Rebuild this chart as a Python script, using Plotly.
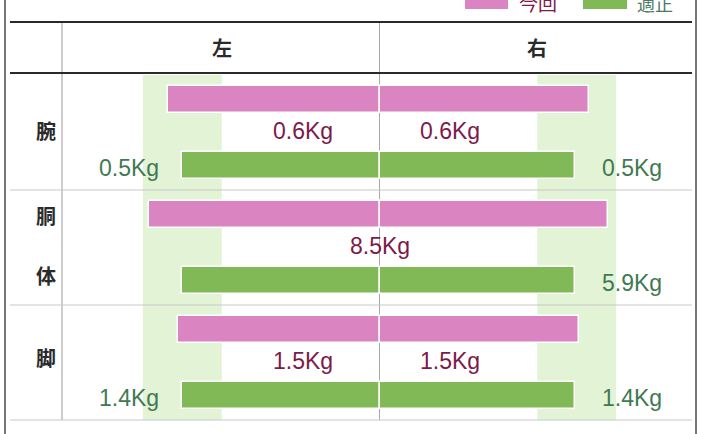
import plotly.graph_objects as go

# ---------------- data ----------------
parts = ["腕", "胴体", "脚"]
sides = ["左", "右"]
legend_names = ["今回", "適正"]

# measured values (Kg), left / right ; trunk is a single value
current_kg_left = [0.6, 8.5, 1.5]
current_kg_right = [0.6, 8.5, 1.5]
standard_kg_left = [0.5, 5.9, 1.4]
standard_kg_right = [0.5, 5.9, 1.4]

# bar lengths as % of standard
current_pct_left = [107, 117, 102]
current_pct_right = [106, 116, 101]
standard_pct_left = [100, 100, 100]
standard_pct_right = [99, 99, 99]

normal_range = [80, 120]  # % of standard (light green band)

# ---------------- style ----------------
PINK = "#DA84C1"
GREEN = "#80B956"
BAND = "#E2F3D6"
PINK_TXT = "#7C1A4A"
GREEN_TXT = "#3F7A52"
DARK = "#2A2A2A"

W, H = 701, 434
L, R, T, B = 62, 697, 22, 420
XR = 161.0
Y_TOP = -(75 - T) / 115.0


def px(xp):
    return (xp - L) / (R - L)


def py(yp):
    return (B - yp) / (B - T)


PINK_OFF = 0.21
GREEN_OFF = 0.785
BAR_W = 0.235

fig = go.Figure()

rows = list(range(len(parts)))
bar_line = dict(color="white", width=1.5)
fig.add_trace(go.Bar(
    y=[r + PINK_OFF for r in rows], x=[-v for v in current_pct_left],
    orientation="h", width=BAR_W, marker=dict(color=PINK, line=bar_line),
    name=legend_names[0], showlegend=False, hoverinfo="skip"))
fig.add_trace(go.Bar(
    y=[r + PINK_OFF for r in rows], x=current_pct_right,
    orientation="h", width=BAR_W, marker=dict(color=PINK, line=bar_line),
    name=legend_names[0], showlegend=False, hoverinfo="skip"))
fig.add_trace(go.Bar(
    y=[r + GREEN_OFF for r in rows], x=[-v for v in standard_pct_left],
    orientation="h", width=BAR_W, marker=dict(color=GREEN, line=bar_line),
    name=legend_names[1], showlegend=False, hoverinfo="skip"))
fig.add_trace(go.Bar(
    y=[r + GREEN_OFF for r in rows], x=standard_pct_right,
    orientation="h", width=BAR_W, marker=dict(color=GREEN, line=bar_line),
    name=legend_names[1], showlegend=False, hoverinfo="skip"))

shapes = []
for sgn in (-1, 1):
    shapes.append(dict(type="rect", xref="x", yref="y", layer="below",
                       x0=sgn * normal_range[0], x1=sgn * normal_range[1], y0=0, y1=len(parts),
                       fillcolor=BAND, line=dict(width=0)))
shapes.append(dict(type="line", xref="x", yref="y", layer="below", x0=0, x1=0, y0=Y_TOP, y1=len(parts),
                   line=dict(color="#A8A8A8", width=1)))
shapes.append(dict(type="line", xref="paper", yref="paper", x0=px(62), x1=px(62), y0=py(22), y1=py(420),
                   line=dict(color="#9A9A9A", width=1)))
for yy in (190, 305, 420):
    shapes.append(dict(type="line", xref="paper", yref="paper", x0=px(10), x1=px(692), y0=py(yy), y1=py(yy),
                       line=dict(color="#C8C8C8", width=1)))
for yy in (22, 73):
    shapes.append(dict(type="line", xref="paper", yref="paper", x0=px(10), x1=px(692), y0=py(yy), y1=py(yy),
                       line=dict(color=DARK, width=2)))
for xx in (5, 696):
    shapes.append(dict(type="line", xref="paper", yref="paper", x0=px(xx), x1=px(xx), y0=py(-2), y1=py(436),
                       line=dict(color="#4A4A4A", width=1.5)))
shapes.append(dict(type="rect", xref="paper", yref="paper", x0=px(465), x1=px(508), y0=py(-6), y1=py(9),
                   fillcolor=PINK, line=dict(width=0)))
shapes.append(dict(type="rect", xref="paper", yref="paper", x0=px(583), x1=px(627), y0=py(-6), y1=py(9),
                   fillcolor=GREEN, line=dict(width=0)))

ann = []
FONT = "Liberation Sans, Arial, sans-serif"
CJK = "Noto Sans CJK JP, sans-serif"
ann.append(dict(xref="paper", yref="paper", x=px(517), y=py(2), xanchor="left", yanchor="middle",
                text=legend_names[0], showarrow=False, font=dict(family=CJK, size=19, color=PINK_TXT)))
ann.append(dict(xref="paper", yref="paper", x=px(635), y=py(3), xanchor="left", yanchor="middle",
                text=legend_names[1], showarrow=False, font=dict(family=CJK, size=18, color="#4E7A62")))
hdr_font = dict(family=CJK, size=20, color=DARK, weight="bold")
ann.append(dict(xref="x", yref="paper", x=-80, y=py(48), yanchor="middle", text=sides[0], showarrow=False,
                font=hdr_font))
ann.append(dict(xref="x", yref="paper", x=80, y=py(48), yanchor="middle", text=sides[1], showarrow=False,
                font=hdr_font))
row_font = dict(family=CJK, size=20, color=DARK, weight="bold")
ann.append(dict(xref="paper", yref="y", x=px(34), y=0.48, yanchor="middle", text=parts[0], showarrow=False,
                font=row_font))
ann.append(dict(xref="paper", yref="y", x=px(34), y=1.22, yanchor="middle", text=parts[1][0], showarrow=False,
                font=row_font))
ann.append(dict(xref="paper", yref="y", x=px(34), y=1.74, yanchor="middle", text=parts[1][1], showarrow=False,
                font=row_font))
ann.append(dict(xref="paper", yref="y", x=px(34), y=2.46, yanchor="middle", text=parts[2], showarrow=False,
                font=row_font))

VAL_FONT = 23
pink_font = dict(family=FONT, size=VAL_FONT, color=PINK_TXT)
green_font = dict(family=FONT, size=VAL_FONT, color=GREEN_TXT)
for i in rows:
    if i == 1:
        ann.append(dict(xref="x", yref="y", x=0, y=i + 0.49, yanchor="middle", text=f"{current_kg_left[i]}Kg",
                        showarrow=False, font=pink_font))
    else:
        ann.append(dict(xref="x", yref="y", x=-39, y=i + 0.49, yanchor="middle", text=f"{current_kg_left[i]}Kg",
                        showarrow=False, font=pink_font))
        ann.append(dict(xref="x", yref="y", x=36, y=i + 0.49, yanchor="middle", text=f"{current_kg_right[i]}Kg",
                        showarrow=False, font=pink_font))
    if i != 1:
        ann.append(dict(xref="x", yref="y", x=-111, y=i + GREEN_OFF + 0.02, xanchor="right", yanchor="middle",
                        text=f"{standard_kg_left[i]}Kg", showarrow=False, font=green_font))
    ann.append(dict(xref="x", yref="y", x=112, y=i + GREEN_OFF + 0.02, xanchor="left", yanchor="middle",
                    text=f"{standard_kg_right[i]}Kg", showarrow=False, font=green_font))

fig.update_layout(
    width=W, height=H,
    margin=dict(l=L, r=W - R, t=T, b=H - B, pad=0),
    paper_bgcolor="white", plot_bgcolor="white",
    barmode="overlay", bargap=0,
    xaxis=dict(range=[-XR, XR], visible=False, fixedrange=True),
    yaxis=dict(range=[len(parts), Y_TOP], visible=False, fixedrange=True),
    shapes=shapes, annotations=ann, showlegend=False,
)

fig.write_html("out.html")
